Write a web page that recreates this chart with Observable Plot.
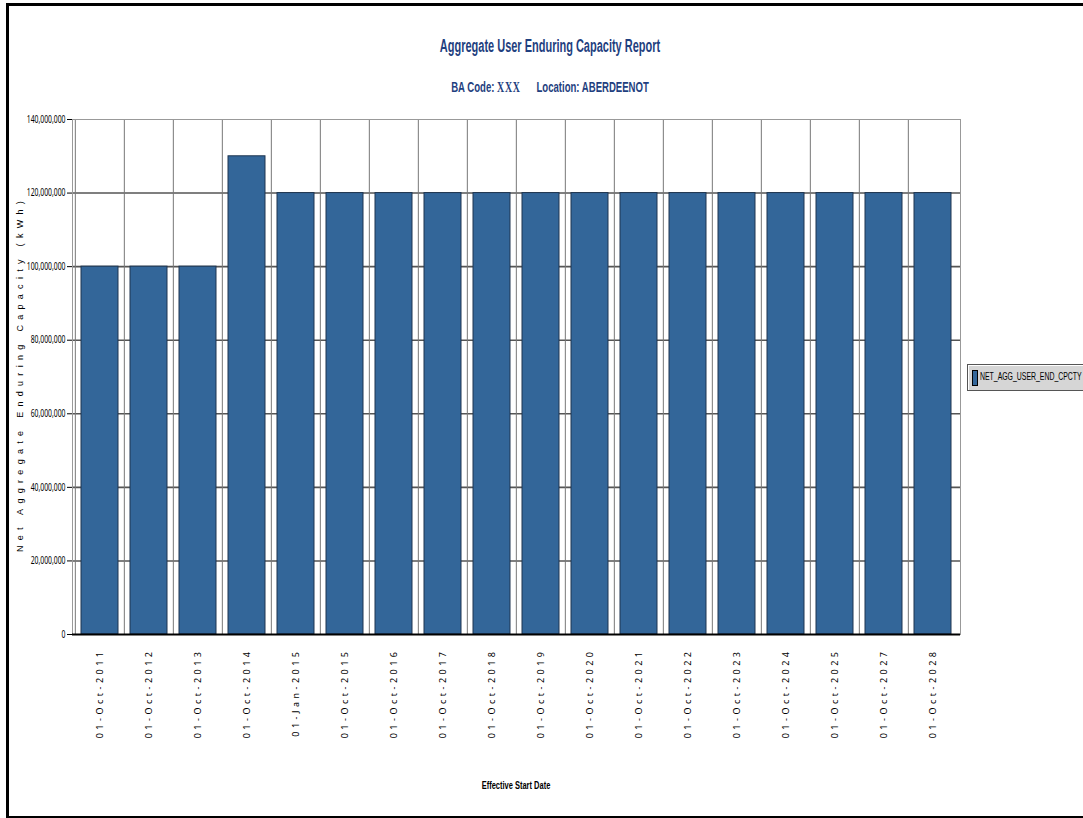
<!DOCTYPE html>
<html>
<head>
<meta charset="utf-8">
<script src="https://cdn.jsdelivr.net/npm/d3@7"></script>
<script src="https://cdn.jsdelivr.net/npm/@observablehq/plot@0.6"></script>
<style>
  html, body { margin: 0; padding: 0; background: #fff; }
  body { width: 1083px; height: 818px; position: relative; overflow: hidden; font-family: "Liberation Sans", Arial, sans-serif; }
  #frame { position: absolute; left: 6px; top: 3px; width: 1100px; height: 810px; border-left: 3px solid #000; border-top: 3px solid #000; border-bottom: 2px solid #000; }
  #chart { position: absolute; left: 0; top: 0; }
  .title { position: absolute; white-space: nowrap; color: #1f3f80; font-weight: bold; transform-origin: center center; }
  #t1 { left: 550px; top: 46px; font-size: 18px; transform: translate(-50%, -50%) scaleX(0.61); }
  #t2 { left: 550px; top: 87px; font-size: 14.5px; transform: translate(-50%, -50%) scaleX(0.66); }
  #t2 .xxx { font-family: "Liberation Serif", "DejaVu Serif", serif; font-size: 15px; letter-spacing: 1px; }
  #ylab { position: absolute; left: 20px; top: 374px; transform: translate(-50%, -50%) rotate(-90deg); white-space: nowrap; font-size: 9px; letter-spacing: 5.3px; color: #000; }
  #xlab { position: absolute; left: 516px; top: 785px; transform: translate(-50%, -50%) scaleX(0.68); white-space: nowrap; font-size: 11px; font-weight: bold; color: #000; }
  #legend { position: absolute; left: 967px; top: 364px; width: 120px; height: 25px; background: #d6d6d6; border: 1px solid #555; box-shadow: inset 1px 1px 0 #fff; }
  #legend .sw { position: absolute; left: 4px; top: 5px; width: 4px; height: 14px; background: #336699; border: 1px solid #000; }
  #legend .lt { position: absolute; left: 12px; top: 6px; font-size: 10px; color: #000; white-space: nowrap; transform: scaleX(0.69); transform-origin: left center; }
  .xt text { letter-spacing: 3.5px; }
</style>
</head>
<body>
<div id="frame"></div>
<div id="chart"></div>
<div class="title" id="t1">Aggregate User Enduring Capacity Report</div>
<div class="title" id="t2">BA Code: <span class="xxx">XXX</span>&nbsp;&nbsp;&nbsp;&nbsp;&nbsp; Location: ABERDEENOT</div>
<div id="ylab">Net Aggregate Enduring Capacity (kWh)</div>
<div id="xlab">Effective Start Date</div>
<div id="legend"><div class="sw"></div><div class="lt">NET_AGG_USER_END_CPCTY</div></div>
<script>
const categories = [
  "01-Oct-2011", "01-Oct-2012", "01-Oct-2013", "01-Oct-2014", "01-Jan-2015",
  "01-Oct-2015", "01-Oct-2016", "01-Oct-2017", "01-Oct-2018", "01-Oct-2019",
  "01-Oct-2020", "01-Oct-2021", "01-Oct-2022", "01-Oct-2023", "01-Oct-2024",
  "01-Oct-2025", "01-Oct-2027", "01-Oct-2028"
];
const capacity = [
  100000000, 100000000, 100000000, 130000000, 120000000,
  120000000, 120000000, 120000000, 120000000, 120000000,
  120000000, 120000000, 120000000, 120000000, 120000000,
  120000000, 120000000, 120000000
];
const yTicks = [0, 20000000, 40000000, 60000000, 80000000, 100000000, 120000000, 140000000];

const data = categories.map((c, i) => ({date: c, value: capacity[i]}));

const W = 1083, H = 818, ML = 72, MR = 123, MT = 119, MB = 184;
const step = (W - ML - MR) / categories.length;

const chart = Plot.plot({
  width: W,
  height: H,
  marginLeft: ML,
  marginRight: MR,
  marginTop: MT,
  marginBottom: MB,
  style: {background: "transparent", color: "#000", fontSize: "9px"},
  x: {type: "band", domain: categories, paddingInner: 0.25, paddingOuter: 0.125},
  y: {domain: [0, 140000000]},
  marks: [
    Plot.ruleY(yTicks.slice(1, -1), {stroke: "#555", strokeWidth: 1.6}),
    Plot.ruleX(categories, {x: d => d, dx: -step / 2, stroke: "#777", strokeWidth: 1}),
    Plot.frame({stroke: "#999", strokeWidth: 1}),
    Plot.barY(data, {x: "date", y: "value", fill: "#336699", stroke: "#1e3550", strokeWidth: 1}),
    Plot.ruleY([0], {stroke: "#000", strokeWidth: 2}),
    Plot.axisY({ticks: yTicks, tickFormat: d3.format(","), tickSize: 5, tickPadding: 2, fontSize: 10, label: null, className: "yt"}),
    Plot.axisX({tickSize: 0, tickRotate: -90, tickPadding: 14, fontSize: 9, label: null, className: "xt"})
  ]
});
document.getElementById("chart").appendChild(chart);
// condense y tick labels (narrow font look)
chart.querySelectorAll(".yt text").forEach(t => {
  const len = t.getComputedTextLength();
  t.setAttribute("textLength", (len * 0.68).toFixed(1));
  t.setAttribute("lengthAdjust", "spacingAndGlyphs");
});
</script>
</body>
</html>
